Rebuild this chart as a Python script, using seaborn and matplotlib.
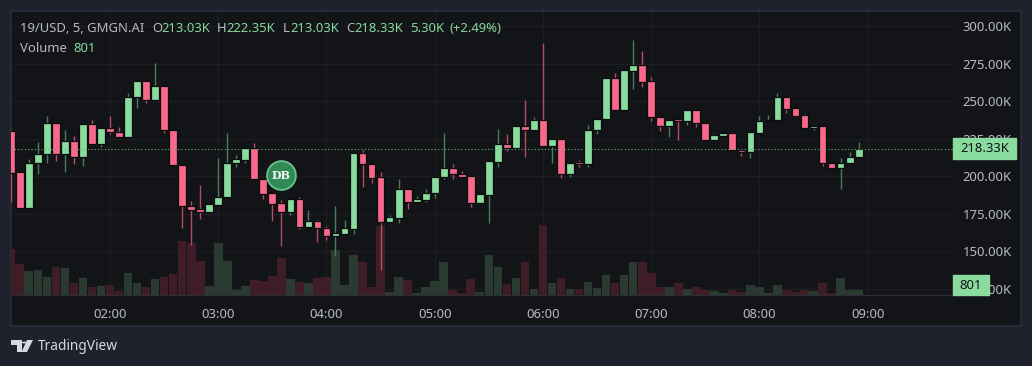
import matplotlib
matplotlib.use("Agg")
import numpy as np
import pandas as pd
import seaborn as sns
from matplotlib import pyplot as plt
from matplotlib.patches import Polygon, Rectangle

# candle values, in thousands, one every 5 minutes from 01:05
opens = [230.2, 202.7, 178.7, 208.7, 214.7, 235.3, 214.7, 223.3, 212.7, 234.7, 221.3, 232, 229.3, 226, 252.7, 263.3,
         250.7, 260, 230.7, 207.3, 180, 178, 176, 180.7, 186, 208.7, 210.7, 218.7, 198, 188.7, 182, 176,
         184.7, 166, 170, 165.3, 160, 161.3, 164.7, 215.3, 208, 199.3, 169.3, 172, 191.3, 182.7, 184, 188.7,
         199.3, 205.3, 201.3, 200, 182, 187.3, 209.3, 221.3, 218.7, 233.3, 230.7, 237.3, 220, 224.7, 201.3, 208.7,
         208, 230.7, 238, 265.3, 244, 270, 274, 263.3, 239.3, 233.3, 237.3, 236.7, 244, 235.3, 224, 226.7,
         228.7, 217.3, 216, 228.7, 236.7, 237.3, 252.7, 245.3, 240.7, 232, 233.3, 208.7, 205.3, 208.7, 212.7]
closes = [202.2, 178.7, 208.7, 214.7, 235.3, 214.7, 223.3, 212.7, 234.7, 221.3, 232, 229.3, 226, 252.7, 263.3, 250.7,
          260, 230.7, 207.3, 180, 177.3, 176, 181.3, 186, 208.7, 211.3, 218.7, 198, 188, 181.3, 176, 184.7,
          166, 170, 165.3, 160, 162, 165.3, 215.3, 208, 198.7, 169.3, 172.7, 191.3, 182.7, 184.7, 188.7, 199.3,
          205.3, 201.3, 199.3, 182, 188, 210, 221.3, 218.7, 233.3, 230.7, 237.3, 220, 224.7, 201.3, 208.7, 208.3,
          230.7, 238, 265.3, 244, 270.7, 274, 262.7, 239.3, 233.3, 237.3, 237, 244, 235.3, 224, 227.3, 228.7,
          217.3, 216, 229.3, 236.7, 237.3, 252.7, 244.7, 240, 232, 233.3, 208.7, 205.3, 208.7, 212.7, 218.33]
highs = [230.7, 202.7, 211.3, 222.7, 240, 235.3, 230.7, 226.7, 234.7, 237.3, 232, 240, 232.7, 255.3, 263.3, 263.3,
         275.3, 260, 230.7, 207.3, 183.3, 194, 181.3, 212, 228.7, 214, 218.7, 222, 198, 188.7, 184, 184.7,
         186, 177.3, 170.7, 166.7, 180, 170.7, 215.3, 217.3, 208, 202.7, 174, 198, 191.3, 186.7, 191.3, 199.3,
         228.7, 208, 203.3, 200, 188, 210, 231.3, 228, 233.3, 250.7, 239.3, 288.7, 224.7, 224.7, 208.7, 210.7,
         234, 238, 265.3, 268.7, 270.7, 290.7, 283.3, 266, 239.3, 237.3, 237.3, 244, 244, 235.3, 228, 228.7,
         229.3, 217.3, 229.3, 240, 240.7, 255.3, 252.7, 245.3, 241.3, 233.3, 233.3, 208.7, 212, 216, 222.35]
lows = [182.7, 178.7, 178.7, 201.3, 208.7, 210, 202.7, 208, 206.7, 221.3, 219.3, 228, 226, 226, 245.3, 248.7,
        250.7, 228.7, 207.3, 165.3, 154, 171.3, 176, 180.7, 186, 206, 208.7, 198, 184.7, 170, 153.3, 174,
        164.7, 166, 156, 157.3, 146.7, 161.3, 161.3, 192.7, 195.3, 137.3, 169.3, 168.7, 178, 182.7, 182.7, 185.3,
        198, 198, 199.3, 179.3, 182, 168.7, 206, 216.7, 218.7, 212.7, 230.7, 220, 208.7, 198.7, 199.3, 206,
        206, 228, 238, 244, 244, 258, 259.3, 236.7, 230, 226, 224, 234, 232.7, 224, 224, 226.7,
        217.3, 213.3, 212, 228.7, 236.7, 237.3, 242, 239.3, 232, 230.7, 206.7, 205.3, 191.3, 208.7, 212.7]
volumes = [6900, 4650, 3600, 3750, 2750, 4250, 4100, 1850, 2500, 1250, 1400, 1500, 600, 3300, 1850, 1150,
           2350, 2650, 3200, 8150, 7900, 5200, 1300, 7800, 5200, 800, 1400, 2300, 2050, 2800, 5650, 2400,
           1950, 1750, 2500, 2650, 6800, 1450, 6100, 4950, 1150, 10350, 450, 2750, 2250, 350, 1250, 2050,
           4950, 700, 250, 2350, 450, 6100, 4300, 1700, 2500, 4950, 900, 10600, 1800, 2500, 900, 900,
           1950, 1100, 3050, 1800, 3050, 5050, 4950, 3300, 1150, 1150, 1800, 950, 1150, 700, 550, 250,
           750, 500, 1450, 1150, 350, 1450, 700, 450, 750, 550, 1850, 350, 2500, 800, 801]

price_ticks = [300, 275, 250, 225, 200, 175, 150, 125]
hour_labels = ["02:00", "03:00", "04:00", "05:00", "06:00", "07:00", "08:00", "09:00"]
hour_index = [11, 23, 35, 47, 59, 71, 83, 95]
last_price = 218.33
last_volume = 801

bg = "#1e222d"
panel = "#131417"
grid = "#1c1e24"
border = "#2a2e39"
up = "#89dc9d"
down = "#f7688a"
up_wick = "#4a7c59"
down_wick = "#b34d67"
vol_up = "#2b3a30"
vol_down = "#3f1d27"
label = "#b8bbc4"
W, H = 1032, 366

sns.set_theme(style="dark")
plt.rcParams["font.family"] = ["Noto Sans", "DejaVu Sans"]

df = pd.DataFrame({"i": np.arange(len(opens)), "open": opens, "close": closes, "high": highs, "low": lows,
                   "volume": volumes})
df["rising"] = df["close"] >= df["open"]

fig = plt.figure(figsize=(W / 100, H / 100), dpi=100, facecolor=bg)


def box(x0, y0, x1, y1):
    return [x0 / W, 1 - y1 / H, (x1 - x0) / W, (y1 - y0) / H]


# outer panel with the axis strips
back = fig.add_axes(box(11, 11, 1021, 326), facecolor=panel)
back.set_xticks([])
back.set_yticks([])
for s in back.spines.values():
    s.set_color(border)
    s.set_linewidth(1.2)

ax = fig.add_axes(box(11.5, 11.5, 953, 295), facecolor=panel)
ax.set_xlim(0.08, 104.46)
ax.set_ylim(120.67, 309.67)
ax.set_yticks(price_ticks)
ax.set_xticks(hour_index)
ax.set_xticklabels(hour_labels)
ax.grid(True, color=grid, linewidth=1)
ax.set_axisbelow(True)

# volume on its own hidden axis, 151 units per pixel
vax = ax.twinx()
vax.set_ylim(0, 283.5 * 151)
vax.axis("off")
sns.barplot(data=df, x="i", y="volume", hue="rising", palette={True: vol_up, False: vol_down}, dodge=False,
            native_scale=True, width=0.96, legend=False, ax=vax, linewidth=0, saturation=1, zorder=1)
vax.set_xlim(ax.get_xlim())

# candles go above the volume bars
cax = ax.twinx()
cax.set_ylim(ax.get_ylim())
cax.axis("off")
wick_cols = np.where(df["rising"], up_wick, down_wick)
cax.vlines(df["i"], df["low"], df["high"], colors=wick_cols, linewidth=1, zorder=2)
body_low = df[["open", "close"]].min(axis=1)
body_h = (df["close"] - df["open"]).abs().clip(lower=0.8)
cax.bar(df["i"], body_h, bottom=body_low, width=0.86, color=np.where(df["rising"], up, down),
        edgecolor="#0b0c0e", linewidth=0.9, zorder=3)
cax.axhline(last_price, color="#5fb87c", linewidth=0.8, linestyle=(0, (1, 2)), zorder=4)

# DB badge
cax.scatter([29.96], [200.67], s=430, color="#2f8a56", edgecolor="#6cc48a", linewidth=1.3, zorder=5)
cax.text(29.96, 200.4, "DB", color="#f2f5f2", fontsize=8, fontweight="bold", family="DejaVu Serif",
         ha="center", va="center", zorder=6)

# twinx moved the ticks to the left, put them back on the price scale
ax.yaxis.tick_right()
ax.set_yticklabels([f"{t:.2f}K" for t in price_ticks])
ax.tick_params(axis="both", length=0, labelcolor=label, labelsize=9.4)
ax.tick_params(axis="x", pad=9)
ax.tick_params(axis="y", pad=7)
for side in ["left", "top", "right"]:
    ax.spines[side].set_visible(False)
ax.spines["bottom"].set_color(border)
ax.spines["bottom"].set_linewidth(1)


def px_text(x, y, s, color=label, size=9.4, **kw):
    fig.text(x / W, 1 - y / H, s, color=color, fontsize=size, va="center", zorder=5, **kw)


# last price and volume tags on the price scale
fig.add_artist(Rectangle((953 / W, 1 - 159 / H), 63 / W, 21 / H, transform=fig.transFigure, color=up, zorder=4))
px_text(985, 148.5, f"{last_price:.2f}K", color="#131417", ha="center")
fig.add_artist(Rectangle((953 / W, 1 - 295 / H), 36 / W, 20.5 / H, transform=fig.transFigure, color=up, zorder=4))
px_text(971, 285.5, str(last_volume), color="#131417", ha="center")

# legend line
val = "#86d79b"
px_text(20, 28.5, "19/USD, 5, GMGN.AI")
for x, s, c in [(152, "O", label), (161, "213.03K", val), (217, "H", label), (226, "222.35K", val),
                (283, "L", label), (290, "213.03K", val), (346, "C", label), (354, "218.33K", val),
                (410, "5.30K", val), (449, "(+2.49%)", val)]:
    px_text(x, 28.5, s, color=c)
px_text(20, 48, "Volume")
px_text(73, 48, str(last_volume), color=val)

# TradingView logo
logo = "#d6d8de"
for pts in [[(11, 340), (22, 340), (22, 352), (17, 352), (17, 345), (11, 345)],
            [(27, 340), (33, 340), (27, 352), (21.5, 352)]]:
    fig.add_artist(Polygon([(x / W, 1 - y / H) for x, y in pts], transform=fig.transFigure, color=logo, lw=0))
fig.add_artist(plt.Circle((24.3 / W, 1 - 342.5 / H), 0.0024, transform=fig.transFigure, color=logo, lw=0))
px_text(37.5, 346.5, "TradingView", color=logo, size=9.9)

fig.savefig("out.png", dpi=100, facecolor=bg)
